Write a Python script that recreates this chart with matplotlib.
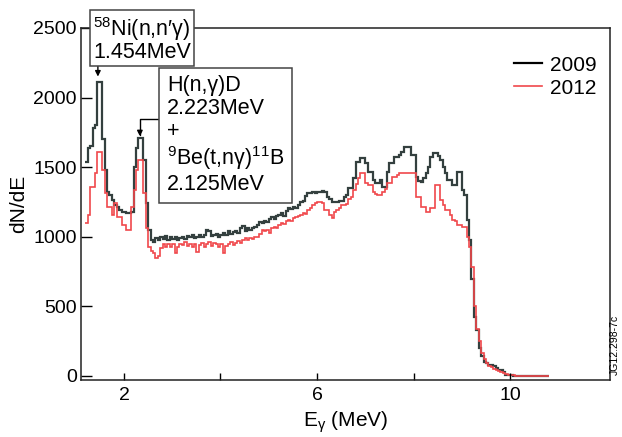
import matplotlib
matplotlib.use('Agg')
import matplotlib.pyplot as plt
import numpy as np

plt.rcParams['font.family'] = ['Liberation Sans', 'DejaVu Sans']
plt.rcParams['mathtext.fontset'] = 'custom'
plt.rcParams['mathtext.rm'] = 'Liberation Sans'
plt.rcParams['mathtext.it'] = 'Liberation Sans'
plt.rcParams['mathtext.default'] = 'regular'

# histogram: first bin edge and bin width (MeV)
E0 = 1.20
DE = 0.05

# dN/dE per bin
counts_2009 = [
    1540, 1640, 1650, 1780, 1800, 2115, 2115, 1700, 1480, 1320,   # 1.20-1.65
    1300, 1266, 1225, 1216, 1190, 1180, 1178, 1173, 1170, 1180,   # 1.70-2.15
    1500, 1640, 1712, 1712, 1550, 1245, 1050,                     # 2.20-2.50
    980, 965, 990, 975, 1000, 985, 1005, 980, 995, 985,           # 2.55-3.00
    1000, 975, 990, 1000, 985, 1005, 995, 1010, 990, 1000,        # 3.05-3.50
    1015, 995, 1010, 1050, 1040, 1005, 1010, 1020, 1000, 1015,    # 3.55-4.00
    1030, 1010, 1040, 1020, 1035, 1045, 1030, 1060, 1080, 1045,   # 4.05-4.50
    1060, 1050, 1065, 1072, 1085, 1108, 1100, 1110, 1105, 1125,   # 4.55-5.00
    1144, 1130, 1150, 1158, 1170, 1150, 1185, 1208, 1200, 1215,   # 5.05-5.50
    1208, 1230, 1252, 1260, 1290, 1316, 1316, 1320, 1316, 1324,   # 5.55-6.00
    1324, 1330, 1324, 1288, 1270, 1252, 1248, 1252, 1255, 1260,   # 6.05-6.50
    1288, 1300, 1352, 1352, 1420, 1540, 1540, 1568, 1568, 1532,   # 6.55-7.00
    1468, 1468, 1410, 1388, 1388, 1410, 1360, 1360, 1468, 1532,   # 7.05-7.50
    1532, 1576, 1576, 1590, 1611, 1648, 1648, 1648, 1590, 1590,   # 7.55-8.00
    1432, 1400, 1396, 1420, 1460, 1500, 1576, 1604, 1604, 1580,   # 8.05-8.50
    1554, 1500, 1460, 1410, 1410, 1374, 1374, 1468, 1468, 1338,   # 8.55-9.00
    1300, 1122, 978, 700, 425, 330, 200, 140, 100, 90,            # 9.05-9.50
    80, 80, 75, 60, 40, 40, 30, 10, 8, 5,                         # 9.55-10.00
    3, 3, 2, 2, 1, 1, 1, 1, 0, 0, 0, 0, 0, 0, 0,                  # 10.05-10.75
]

counts_2012 = [
    1100, 1160, 1360, 1360, 1460, 1611, 1611, 1480, 1316, 1216,   # 1.20-1.65
    1216, 1158, 1245, 1144, 1144, 1086, 1086, 1050, 1050, 1216,   # 1.70-2.15
    1338, 1482, 1554, 1554, 1316, 1065, 928,                      # 2.20-2.50
    900, 880, 850, 860, 920, 950, 930, 945, 925, 950,             # 2.55-3.00
    885, 930, 950, 940, 960, 935, 950, 930, 945, 890,             # 3.05-3.50
    940, 955, 930, 945, 960, 935, 955, 950, 930, 945,             # 3.55-4.00
    885, 935, 950, 960, 940, 955, 970, 955, 975, 990,             # 4.05-4.50
    980, 993, 985, 1000, 1000, 1020, 1050, 1040, 1050, 1030,      # 4.55-5.00
    1060, 1072, 1065, 1085, 1100, 1090, 1110, 1122, 1115, 1135,   # 5.05-5.50
    1144, 1150, 1160, 1173, 1165, 1190, 1210, 1230, 1240, 1252,   # 5.55-6.00
    1252, 1245, 1194, 1194, 1160, 1137, 1180, 1194, 1210, 1230,   # 6.05-6.50
    1230, 1235, 1270, 1288, 1338, 1380, 1424, 1460, 1460, 1388,   # 6.55-7.00
    1374, 1374, 1324, 1310, 1302, 1302, 1324, 1340, 1388, 1388,   # 7.05-7.50
    1432, 1432, 1445, 1460, 1460, 1455, 1460, 1460, 1458, 1460,   # 7.55-8.00
    1288, 1288, 1216, 1216, 1180, 1180, 1208, 1208, 1374, 1374,   # 8.05-8.50
    1266, 1230, 1194, 1194, 1160, 1122, 1110, 1086, 1086, 1072,   # 8.55-9.00
    1072, 1000, 930, 785, 500, 340, 250, 165, 120, 90,            # 9.05-9.50
    70, 65, 50, 40, 35, 25, 20, 12, 8, 5,                         # 9.55-10.00
    4, 3, 3, 2, 2, 1, 1, 1, 1, 0, 0, 0, 0, 0, 0,                  # 10.05-10.75
]

years = ['2009', '2012']
line_colors = ['#34403f', '#f0484c']

x_ticks = [2, 4, 6, 8, 10]
x_ticklabels = ['2', '', '6', '', '10']
y_ticks = [0, 500, 1000, 1500, 2000, 2500]


def edges_for(vals):
    return E0 + DE * np.arange(len(vals) + 1)


fig = plt.figure(figsize=(6.22, 4.37), dpi=100)
ax = fig.add_axes([81 / 622, 1 - 380 / 437, 529 / 622, 352 / 437])

for vals, lab, c, lw in zip([counts_2009, counts_2012], years, line_colors, [1.6, 1.2]):
    ax.stairs(vals, edges_for(vals), baseline=None, color=c, lw=lw, label=lab)

ax.set_xlim(1.11, 12.07)
ax.set_ylim(-29, 2500)
ax.set_xticks(x_ticks)
ax.set_xticklabels(x_ticklabels)
ax.set_yticks(y_ticks)
ax.tick_params(axis='x', direction='in', length=5, width=1, labelsize=14, pad=5)
ax.tick_params(axis='y', direction='in', length=8, width=1, labelsize=14, pad=3)
for sp in ax.spines.values():
    sp.set_linewidth(1.1)
    sp.set_color('#222222')

ax.set_xlabel(r'E$_{\gamma}$ (MeV)', fontsize=15, labelpad=4)
ax.set_ylabel('dN/dE', fontsize=15, labelpad=4)

leg = ax.legend(loc='upper right', bbox_to_anchor=(1.01, 0.975), frameon=False,
                fontsize=15, handlelength=1.3, handletextpad=0.4, labelspacing=0.2)
leg.legend_handles[0].set_color('black')

box = dict(boxstyle='square,pad=0.15', fc='white', ec='#444444', lw=1.1)
ax.text(1.359, 2420, '$^{58}$Ni(n,n\u2032\u03b3)\n1.454MeV', fontsize=15.5,
        ha='left', va='center', linespacing=0.95, bbox=box, clip_on=False, zorder=5)
box_h = dict(boxstyle='square,pad=0.35', fc='white', ec='#444444', lw=1.1)
ax.text(2.892, 1730, 'H(n,\u03b3)D\n2.223MeV\n+\n$^{9}$Be(t,n\u03b3)$^{11}$B\n2.125MeV',
        fontsize=15.5, ha='left', va='center', linespacing=1.12, bbox=box_h, zorder=5)

arrow = dict(arrowstyle='-|>', color='black', lw=1, mutation_scale=8, shrinkA=0, shrinkB=0)
ax.annotate('', xy=(1.46, 2151), xytext=(1.46, 2262), arrowprops=arrow,
            annotation_clip=False)
ax.annotate('', xy=(2.33, 1722), xytext=(2.727, 1849),
            arrowprops=dict(arrow, connectionstyle='angle,angleA=0,angleB=90,rad=0'))

fig.text(0.997, 1 - 345 / 437, 'JG12.298-7c', rotation=90, fontsize=7.5,
         ha='right', va='center')

fig.savefig('out.png', dpi=100)
